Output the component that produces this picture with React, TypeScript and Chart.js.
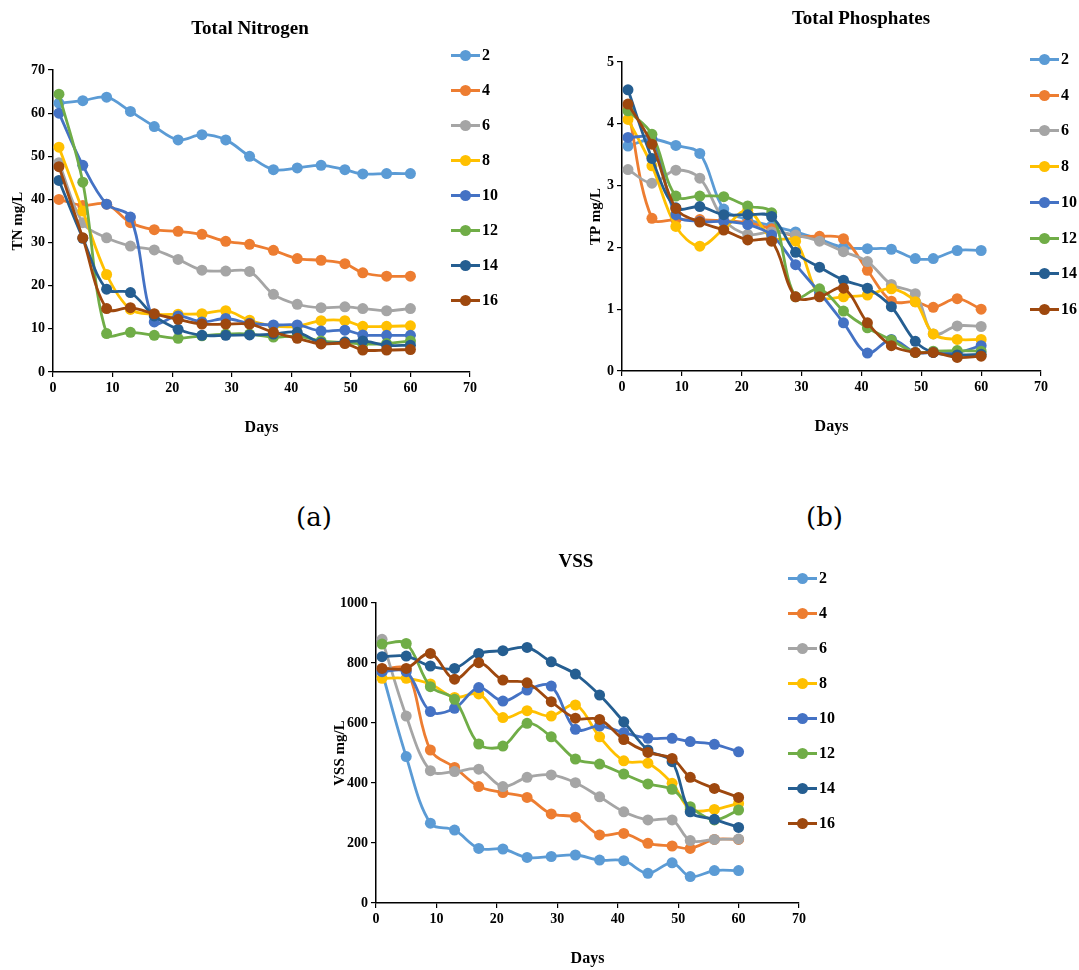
import React, { useEffect, useRef } from 'react';
import { Chart, registerables } from 'chart.js';
Chart.register(...registerables);

const days = [1, 5, 9, 13, 17, 21, 25, 29, 33, 37, 41, 45, 49, 52, 56, 60];
const seriesNames = ['2', '4', '6', '8', '10', '12', '14', '16'];
const colors = ['#5B9BD5', '#ED7D31', '#A5A5A5', '#FFC000', '#4472C4', '#70AD47', '#255E91', '#9E480E'];

// Total Nitrogen (mg/L)
const tn2 = [62.3, 62.9, 63.7, 60.4, 56.9, 53.8, 55.0, 53.8, 50.0, 46.9, 47.3, 47.9, 46.9, 45.9, 46.0, 46.0];
const tn4 = [40.0, 38.6, 38.9, 34.6, 33.0, 32.6, 31.9, 30.3, 29.6, 28.2, 26.3, 25.9, 25.1, 23.0, 22.2, 22.2];
const tn6 = [48.5, 34.6, 31.1, 29.2, 28.3, 26.1, 23.6, 23.4, 23.3, 18.0, 15.7, 14.9, 15.1, 14.7, 14.2, 14.7];
const tn8 = [52.1, 37.3, 22.6, 14.5, 13.4, 13.4, 13.5, 14.2, 12.0, 10.7, 10.6, 11.9, 11.9, 10.6, 10.6, 10.7];
const tn10 = [60.0, 47.9, 38.9, 35.9, 11.6, 13.0, 11.6, 12.4, 11.3, 10.9, 10.9, 9.5, 9.7, 8.6, 8.5, 8.5];
const tn12 = [64.4, 44.0, 8.9, 9.2, 8.5, 7.8, 8.4, 8.8, 8.8, 8.1, 8.3, 7.2, 6.8, 6.5, 6.6, 7.2];
const tn14 = [44.4, 31.0, 19.2, 18.4, 13.0, 9.9, 8.5, 8.5, 8.6, 8.8, 9.2, 6.8, 7.0, 7.2, 6.2, 6.2];
const tn16 = [47.6, 31.1, 14.7, 14.9, 13.5, 12.2, 11.1, 11.1, 11.1, 9.2, 7.8, 6.5, 6.6, 5.1, 5.1, 5.2];

// Total Phosphates (mg/L)
const tp2 = [3.64, 3.75, 3.65, 3.52, 2.62, 2.45, 2.35, 2.25, 2.13, 2.0, 1.98, 1.97, 1.82, 1.82, 1.95, 1.95];
const tp4 = [4.25, 2.47, 2.45, 2.45, 2.43, 2.4, 2.3, 2.18, 2.18, 2.14, 1.63, 1.13, 1.12, 1.03, 1.17, 1.0];
const tp6 = [3.26, 3.04, 3.25, 3.12, 2.45, 2.21, 2.25, 2.2, 2.1, 1.93, 1.77, 1.4, 1.25, 0.6, 0.73, 0.72];
const tp8 = [4.07, 3.32, 2.34, 2.02, 2.3, 2.6, 2.15, 2.1, 1.21, 1.2, 1.23, 1.33, 1.12, 0.6, 0.51, 0.51];
const tp10 = [3.78, 3.75, 2.53, 2.42, 2.42, 2.37, 2.2, 1.72, 1.27, 0.78, 0.29, 0.51, 0.3, 0.3, 0.3, 0.41];
const tp12 = [4.21, 3.83, 2.83, 2.83, 2.82, 2.67, 2.56, 1.2, 1.33, 0.97, 0.7, 0.5, 0.3, 0.32, 0.33, 0.32];
const tp14 = [4.55, 3.44, 2.64, 2.66, 2.53, 2.53, 2.5, 1.92, 1.68, 1.47, 1.34, 1.04, 0.48, 0.3, 0.26, 0.27];
const tp16 = [4.32, 3.67, 2.63, 2.41, 2.28, 2.12, 2.1, 1.2, 1.2, 1.34, 0.78, 0.41, 0.3, 0.3, 0.22, 0.24];

// VSS (mg/L)
const vss2 = [770, 488, 266, 243, 182, 180, 152, 155, 160, 143, 141, 99, 134, 88, 108, 108];
const vss4 = [780, 777, 510, 452, 388, 368, 352, 297, 286, 227, 232, 199, 190, 182, 212, 212];
const vss6 = [879, 623, 441, 438, 446, 388, 419, 427, 401, 354, 304, 277, 277, 208, 212, 213];
const vss8 = [749, 749, 730, 685, 697, 618, 641, 623, 660, 554, 474, 466, 399, 312, 312, 332];
const vss10 = [771, 771, 638, 649, 718, 673, 710, 723, 579, 590, 568, 549, 549, 538, 529, 504];
const vss12 = [863, 865, 721, 679, 530, 523, 599, 554, 480, 463, 430, 397, 379, 321, 277, 310];
const vss14 = [821, 823, 790, 782, 832, 841, 852, 804, 763, 693, 604, 510, 471, 304, 279, 252];
const vss16 = [782, 782, 832, 746, 801, 743, 734, 671, 616, 612, 545, 502, 482, 419, 382, 352];

const tnSeries = [tn2, tn4, tn6, tn8, tn10, tn12, tn14, tn16];
const tpSeries = [tp2, tp4, tp6, tp8, tp10, tp12, tp14, tp16];
const vssSeries = [vss2, vss4, vss6, vss8, vss10, vss12, vss14, vss16];

const FONT = "'Liberation Serif', 'Times New Roman', serif";

type ChartProps = {
  left: number; top: number; width: number; height: number;
  series: number[][]; yMax: number; yStep: number; yTitle: string;
  pad: { left: number; right: number; top: number; bottom: number };
  yAxisW: number; xAxisH: number;
};

function LineChart(p: ChartProps) {
  const ref = useRef<HTMLCanvasElement>(null);
  useEffect(() => {
    if (!ref.current) return;
    const axisGrid = { display: true, drawOnChartArea: false, drawTicks: true, tickLength: 5, color: '#000', lineWidth: 1.2 };
    const axisBorder = { display: true, color: '#000', width: 1.5 };
    const tickFont = { family: FONT, size: 14, weight: 'bold' as const };
    const chart = new Chart(ref.current, {
      type: 'line',
      data: {
        datasets: p.series.map((vals, i) => ({
          label: seriesNames[i],
          data: days.map((d, j) => ({ x: d, y: vals[j] })),
          borderColor: colors[i],
          backgroundColor: colors[i],
          pointBackgroundColor: colors[i],
          pointBorderColor: colors[i],
          pointBorderWidth: 0,
          borderWidth: 2.8,
          pointRadius: 5.5,
          tension: 0.35,
          order: 8 - i,
        })),
      },
      options: {
        animation: false,
        responsive: false,
        maintainAspectRatio: false,
        layout: { padding: p.pad },
        plugins: { legend: { display: false }, tooltip: { enabled: false } },
        scales: {
          x: {
            type: 'linear', min: 0, max: 70,
            ticks: { stepSize: 10, color: '#000', font: tickFont, maxRotation: 0, padding: 3, callback: (v: any) => String(v) },
            grid: axisGrid, border: axisBorder,
            title: { display: true, text: 'Days', color: '#000', font: { family: FONT, size: 16, weight: 'bold' }, padding: 0 },
            afterFit: (s: any) => { s.height = p.xAxisH; },
          },
          y: {
            type: 'linear', min: 0, max: p.yMax,
            ticks: { stepSize: p.yStep, color: '#000', font: tickFont, padding: 3, callback: (v: any) => String(v) },
            grid: axisGrid, border: axisBorder,
            title: { display: true, text: p.yTitle, color: '#000', font: { family: FONT, size: 15, weight: 'bold' }, padding: 0 },
            afterFit: (s: any) => { s.width = p.yAxisW; },
          },
        },
      },
    } as any);
    return () => chart.destroy();
  }, []);
  return (
    <canvas ref={ref} width={p.width} height={p.height}
      style={{ position: 'absolute', left: p.left, top: p.top, width: p.width, height: p.height }} />
  );
}

function Legend({ x, y, spacing }: { x: number; y: number; spacing: number }) {
  return (
    <>
      {seriesNames.map((name, i) => (
        <div key={name} style={{ position: 'absolute', left: x, top: y + i * spacing - 10, height: 20, width: 60 }}>
          <div style={{ position: 'absolute', left: 0, top: 9, width: 29, height: 3, background: colors[i] }} />
          <div style={{ position: 'absolute', left: 9, top: 5, width: 11, height: 11, borderRadius: '50%', background: colors[i] }} />
          <div style={{ position: 'absolute', left: 31, top: 0, fontFamily: FONT, fontWeight: 'bold', fontSize: 16, lineHeight: '20px', color: '#000' }}>{name}</div>
        </div>
      ))}
    </>
  );
}

function Title({ text, cx, top, size }: { text: string; cx: number; top: number; size: number }) {
  return (
    <div style={{ position: 'absolute', left: cx - 150, width: 300, top, textAlign: 'center', fontFamily: FONT, fontWeight: 'bold', fontSize: size, color: '#000', lineHeight: '24px' }}>{text}</div>
  );
}

export default function App() {
  return (
    <div style={{ position: 'absolute', left: 0, top: 0, width: 1079, height: 970, background: '#fff', overflow: 'hidden' }}>
      <LineChart left={0} top={0} width={490} height={460} series={tnSeries} yMax={70} yStep={10} yTitle="TN mg/L"
        pad={{ left: 9, right: 20, top: 70, bottom: 23 }} yAxisW={44} xAxisH={65} />
      <Title text="Total Nitrogen" cx={250} top={16} size={19} />
      <Legend x={451} y={55} spacing={35} />

      <LineChart left={580} top={0} width={499} height={460} series={tpSeries} yMax={5} yStep={1} yTitle="TP mg/L"
        pad={{ left: 7, right: 38, top: 62, bottom: 24 }} yAxisW={35} xAxisH={65} />
      <Title text="Total Phosphates" cx={861} top={6} size={19} />
      <Legend x={1030} y={59} spacing={35.7} />

      <div style={{ position: 'absolute', left: 296, top: 502, fontFamily: "'DejaVu Serif', serif", fontSize: 26, color: '#000' }}>(a)</div>
      <div style={{ position: 'absolute', left: 806, top: 502, fontFamily: "'DejaVu Serif', serif", fontSize: 26, color: '#000' }}>(b)</div>

      <LineChart left={320} top={540} width={520} height={430} series={vssSeries} yMax={1000} yStep={200} yTitle="VSS mg/L"
        pad={{ left: 11, right: 41, top: 63, bottom: 2 }} yAxisW={45} xAxisH={65} />
      <Title text="VSS" cx={576} top={549} size={19} />
      <Legend x={788} y={578} spacing={35} />
    </div>
  );
}
